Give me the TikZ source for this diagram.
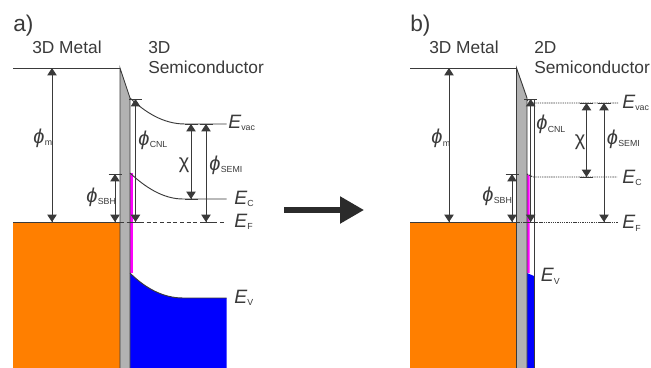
\documentclass[tikz,border=0pt]{standalone}
\usepackage{fontspec}
\setmainfont{Liberation Sans}
\usetikzlibrary{arrows.meta}
\definecolor{ln}{HTML}{3A3A3A}
\definecolor{arw}{HTML}{2B2B2B}
\definecolor{orng}{HTML}{FF7F00}
\definecolor{gry}{HTML}{B2B2B2}
\definecolor{mag}{HTML}{FF00FF}
\definecolor{blu}{HTML}{0000FF}
\tikzset{
 x=0.75pt,y=-0.75pt,
 band/.style={draw=ln,line width=0.7pt},
 dim/.style={draw=ln,line width=0.7pt,{Bar[width=9.75pt,line width=.6pt]Stealth[length=5.5pt,width=7pt,inset=0pt,sep=-0.6pt]}-{Stealth[length=5.5pt,width=7pt,inset=0pt]Bar[width=9.75pt,line width=.6pt,sep=-0.6pt]}},
 lvl/.style={draw=ln,line width=0.7pt,densely dashed},
 dots/.style={draw=ln,line width=0.7pt,dash pattern=on 1pt off 0.7pt},
 txt/.style={inner sep=0pt,anchor=base west,text=ln,font=\fontsize{13pt}{15pt}\selectfont,align=left},
 sym/.style={inner sep=0pt,anchor=base west,text=ln,font=\fontsize{15pt}{16pt}\selectfont},
 chisym/.style={inner sep=0pt,anchor=center,text=ln,font=\fontsize{15pt}{16pt}\selectfont},
 big/.style={draw=arw,line width=4pt,-{Triangle[length=18pt,width=19.5pt]}}
}
\newcommand{\Subsym}[1]{\raisebox{-2.2pt}{\fontsize{6.6pt}{8pt}\selectfont #1}}
\newcommand{\Phisym}[1]{\textit{ϕ}\kern0.3pt\Subsym{#1}}
\newcommand{\Esym}[1]{{\fontsize{14.5pt}{16pt}\selectfont\textit{E}}\Subsym{#1}}
\begin{document}
\begin{tikzpicture}
\useasboundingbox (0,0) rectangle (651,368);
\fill[white] (0,0) rectangle (651,368);
% panel a
\fill[orng] (13,222) rectangle (120,368);
\fill[blu] (130,273) .. controls (145,288) and (163,298) .. (183,298) -- (226.5,298) -- (226.5,368) -- (130,368) -- cycle;
\fill[mag] (130,173) rectangle (132.5,273);
\fill[gry] (120,68) -- (130,98) -- (130,368) -- (120,368) -- cycle;
\draw[band] (120,368) -- (120,68) -- (130,98) -- (130,368);
\draw[band] (13,68) -- (120,68);
\draw[band] (13,222) -- (120,222);
\draw[lvl] (120,222) -- (226.5,222);
\draw[band] (130,98) .. controls (145,112) and (163,124) .. (185,124) -- (226.5,124);
\draw[band] (130,173) .. controls (145,187) and (163,199) .. (183,199) -- (226.5,199);
\draw[band] (130,273) .. controls (145,288) and (163,298) .. (183,298) -- (226.5,298);
\draw[dim] (52,68) -- (52,222);
\draw[dim] (115,174) -- (115,222);
\draw[dim] (135.5,99) -- (135.5,222);
\draw[dim] (191,124) -- (191,199);
\draw[dim] (206,124) -- (206,222);
\node[txt] (la) at (13,31) {\fontsize{17pt}{18pt}\selectfont a)};
\node[txt] (m1) at (32,53) {3D Metal};
\node[txt] (s1) at (148,53) {3D};
\node[txt] (s1b) at (148,73) {Semiconductor};
\node[sym] (pm1) at (33,143) {\Phisym{m}};
\node[sym] (ps1) at (86,202) {\Phisym{SBH}};
\node[sym] (pc1) at (138,145) {\Phisym{CNL}};
\node[chisym] (x1) at (184,165) {χ};
\node[sym] (pe1) at (209,170) {\Phisym{SEMI}};
\node[sym] (ev1) at (228,128) {\Esym{vac}};
\node[sym] (ec1) at (234,204) {\Esym{C}};
\node[sym] (ef1) at (234,227) {\Esym{F}};
\node[sym] (ev2) at (234,303) {\Esym{V}};
% arrow
\coordinate (g1) at (284,210); \coordinate (g2) at (364,210);
\draw[big] (g1) -- (g2);
% panel b
\fill[orng] (410,222) rectangle (516.5,368);
\fill[white] (527,98) rectangle (534,368);
\fill[mag] (527,174) -- (529.5,175.5) -- (529.5,273) -- (527,273) -- cycle;
\fill[blu] (527,273) -- (534,276) -- (534,368) -- (527,368) -- cycle;
\fill[gry] (516.5,68) -- (527,98) -- (527,368) -- (516.5,368) -- cycle;
\draw[band] (516.5,368) -- (516.5,68) -- (527,98) -- (527,368);
\draw[band] (534,100) -- (534,368);
\draw[band] (410,68) -- (516.5,68);
\draw[band] (410,222) -- (516.5,222);
\draw[dots] (516.5,222.5) -- (618,222.5);
\draw[dots] (527,100) -- (533,103) -- (618,103);
\draw[dots] (527,174) -- (533,177) -- (617,177);
\draw[dim] (449,68) -- (449,222);
\draw[dim] (512,174) -- (512,222);
\draw[dim] (530.7,99) -- (530.7,222);
\draw[dim] (586.5,103) -- (586.5,177);
\draw[dim] (604,103) -- (604,222);
\node[txt] (lb) at (410,31) {\fontsize{17pt}{18pt}\selectfont b)};
\node[txt] (m2) at (429,53) {3D Metal};
\node[txt] (s2) at (534,53) {2D};
\node[txt] (s2b) at (534,73) {Semiconductor};
\node[sym] (pm2) at (431,143.5) {\Phisym{m}};
\node[sym] (ps2) at (482,201) {\Phisym{SBH}};
\node[sym] (pc2) at (536,129.5) {\Phisym{CNL}};
\node[chisym] (x2) at (580,142.5) {χ};
\node[sym] (pe2) at (606.5,144) {\Phisym{SEMI}};
\node[sym] (ev3) at (622,108) {\Esym{vac}};
\node[sym] (ec2) at (622,183) {\Esym{C}};
\node[sym] (ef2) at (622,228.5) {\Esym{F}};
\node[sym] (ev4) at (540.5,281.5) {\Esym{V}};
\end{tikzpicture}
\end{document}
